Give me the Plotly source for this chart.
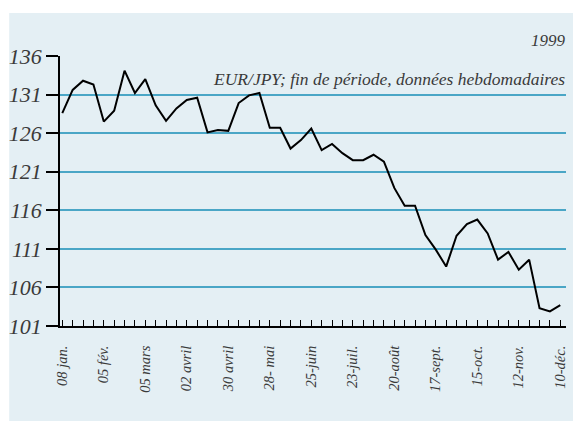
import plotly.graph_objects as go

# Weekly EUR/JPY, end of period, 1999 (08 jan. -> 10 déc.)
week_index = list(range(49))
eur_jpy = [128.6, 131.6, 132.8, 132.3, 127.5, 128.9, 134.1, 131.2, 133.0, 129.6,
           127.6, 129.2, 130.3, 130.6, 126.1, 126.4, 126.3, 129.9, 130.9, 131.2,
           126.7, 126.7, 124.0, 125.1, 126.6, 123.8, 124.6, 123.4, 122.5, 122.5,
           123.2, 122.3, 118.9, 116.6, 116.6, 112.8, 110.9, 108.7, 112.7, 114.2,
           114.8, 113.0, 109.6, 110.6, 108.3, 109.6, 103.3, 102.9, 103.7]

x_labels = ["08 jan.", "05 fév.", "05 mars", "02 avril", "30 avril", "28- mai",
            "25-juin", "23-juil.", "20-août", "17-sept.", "15-oct.", "12-nov.", "10-déc."]
y_ticks = [101, 106, 111, 116, 121, 126, 131, 136]

tick_text = []
for i in week_index:
    tick_text.append("<i>" + x_labels[i // 4] + "</i>" if i % 4 == 0 else "")
y_text = ["<i>%d</i>" % v for v in y_ticks]

fig = go.Figure()
fig.add_trace(go.Scatter(x=week_index, y=eur_jpy, mode="lines",
                         line=dict(color="black", width=2), hoverinfo="skip"))

serif = "Liberation Serif, Times New Roman, serif"
txt_col = "#3a3a3a"

fig.update_layout(
    width=573, height=421,
    margin=dict(l=60, r=5, t=56, b=95),
    paper_bgcolor="white",
    plot_bgcolor="rgba(0,0,0,0)",
    showlegend=False,
    shapes=[dict(type="rect", xref="paper", yref="paper",
                 x0=-0.1004, x1=1.02, y0=-0.40, y1=1.159,
                 fillcolor="#e4eff4", line=dict(width=0), layer="below")],
    annotations=[
        dict(text="<i>1999</i>", xref="paper", yref="paper", x=1.003, y=1.0556,
             xanchor="right", yanchor="middle", showarrow=False,
             font=dict(family=serif, size=17, color=txt_col)),
        dict(text="<i>EUR/JPY; fin de période, données hebdomadaires</i>",
             xref="paper", yref="paper", x=1.001, y=0.915,
             xanchor="right", yanchor="middle", showarrow=False,
             font=dict(family=serif, size=17.5, color=txt_col)),
    ],
)

fig.update_xaxes(
    range=[-0.221, 48.55],
    tickmode="array", tickvals=week_index, ticktext=tick_text,
    tickangle=-90, ticks="inside", ticklen=6, tickwidth=1.3, tickcolor="black",
    ticklabelstandoff=12,
    tickfont=dict(family=serif, size=14.5, color=txt_col),
    showline=True, linecolor="black", linewidth=1.8,
    showgrid=False, zeroline=False,
)
fig.update_yaxes(
    range=[101, 136],
    tickmode="array", tickvals=y_ticks, ticktext=y_text,
    ticks="outside", ticklen=12, tickwidth=1.5, tickcolor="black",
    tickfont=dict(family=serif, size=22, color=txt_col),
    showline=True, linecolor="black", linewidth=1.8,
    showgrid=True, gridcolor="#4aa6c6", gridwidth=1.6,
    zeroline=False,
)

fig.write_html("out.html", config={"displayModeBar": False},
               post_script="document.body.style.margin='0';document.body.style.overflow='hidden';")
